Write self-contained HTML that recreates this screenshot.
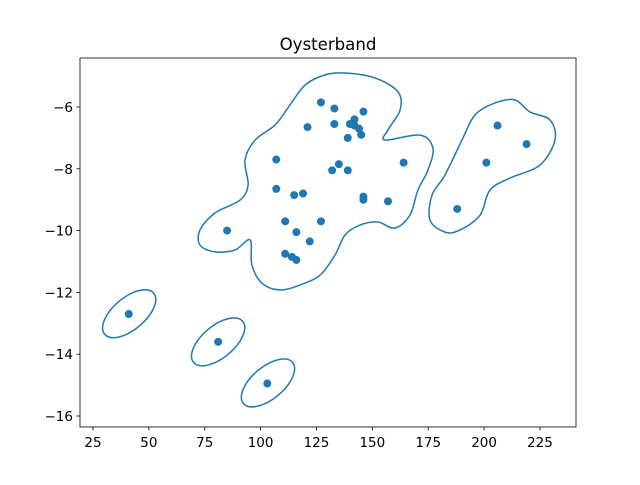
<!DOCTYPE html>
<html><head><meta charset="utf-8"><style>
body{margin:0;background:#fff;font-family:"Liberation Sans","DejaVu Sans",sans-serif}
svg text{font-family:"DejaVu Sans","Liberation Sans",sans-serif}
</style></head><body>
<svg id="chart" width="640" height="480" xmlns="http://www.w3.org/2000/svg">
<rect width="640" height="480" fill="#fff"/>
<text x="328" y="50" text-anchor="middle" font-size="16.6">Oysterband</text>
<g id="contours"></g>
<g id="points"></g>
<rect x="80" y="58" width="496" height="369" fill="none" stroke="#000" stroke-width="0.8"/>
<g id="xaxis"></g>
<g id="yaxis"></g>
</svg>
<script>
const xs=[41,81,103,85,107,107,111,111,114,115,116,116,119,121,122,127,127,132,133,133,135,139,139,140,142,142,144,145,146,146,146,157,164,188,201,206,219];
const ys=[-12.7,-13.6,-14.95,-10,-7.7,-8.65,-9.7,-10.75,-10.85,-8.85,-10.95,-10.05,-8.8,-6.65,-10.35,-5.85,-9.7,-8.05,-6.05,-6.55,-7.85,-8.05,-7.0,-6.55,-6.4,-6.6,-6.7,-6.9,-6.15,-8.9,-9.0,-9.05,-7.8,-9.3,-7.8,-6.6,-7.2];
const xTicks=[25,50,75,100,125,150,175,200,225];
const yTicks=[-16,-14,-12,-10,-8,-6];
const bigX=[137.8,151.2,161.5,162.4,157.0,155.7,171.3,177.1,174.9,170.4,166.8,160.1,152.5,144.5,137.8,133.3,126.6,117.6,108.7,100.6,96.1,95.3,88.5,79.6,72.9,72.9,79.6,90.8,94.4,93.0,97.5,106.5,113.1,119.9,128.8];
const bigY=[-4.90,-5.06,-5.51,-6.10,-6.74,-7.07,-6.91,-7.33,-8.04,-8.69,-9.50,-9.92,-9.72,-9.82,-10.14,-10.79,-11.44,-11.76,-11.92,-11.70,-11.11,-10.30,-10.63,-10.69,-10.47,-9.98,-9.43,-9.01,-8.52,-7.72,-7.07,-6.58,-5.94,-5.29,-4.96];
const rightX=[175.8,182.5,189.2,198.2,202.6,211.6,225.0,231.7,229.5,220.5,213.8,204.9,195.9,190.1,182.5,176.7];
const rightY=[-9.66,-10.05,-9.98,-9.50,-8.69,-8.30,-7.88,-7.07,-6.42,-6.16,-5.77,-5.87,-6.26,-7.07,-8.20,-8.85];
const ellX=[41.2,81,103.3];
const ellY=[-12.69,-13.6,-14.93];
const NS="http://www.w3.org/2000/svg";
const sx=v=>37.1+v*2.235;
const sy=v=>107-(v+6)*30.9;
function mk(t,a,p){const e=document.createElementNS(NS,t);for(const k in a)e.setAttribute(k,a[k]);p.appendChild(e);return e;}
const C="#1f77b4";
const cg=document.getElementById('contours');
function closedPath(X,Y){
 const P=X.map((x,i)=>[sx(x),sy(Y[i])]);const n=P.length;let d=`M${P[0][0]},${P[0][1]}`;
 for(let i=0;i<n;i++){const p0=P[(i-1+n)%n],p1=P[i],p2=P[(i+1)%n],p3=P[(i+2)%n];
  d+=` C${p1[0]+(p2[0]-p0[0])/6},${p1[1]+(p2[1]-p0[1])/6} ${p2[0]-(p3[0]-p1[0])/6},${p2[1]-(p3[1]-p1[1])/6} ${p2[0]},${p2[1]}`;}
 return d+'Z';}
let e=mk('path',{d:closedPath(bigX,bigY),fill:'none',stroke:C,'stroke-width':1.5},cg);


e=mk('path',{d:closedPath(rightX,rightY),fill:'none',stroke:C,'stroke-width':1.5},cg);


ellX.forEach((x,i)=>{const cx=sx(x),cy=sy(ellY[i]);
 const el=mk('ellipse',{cx:cx,cy:cy,rx:32,ry:16,transform:`rotate(-40 ${cx} ${cy})`,fill:'none',stroke:C,'stroke-width':1.5},cg);
 
 });
const pg=document.getElementById('points');
xs.forEach((x,i)=>{const c=mk('circle',{cx:sx(x),cy:sy(ys[i]),r:4,fill:C},pg);
 
 });
const xa=document.getElementById('xaxis');
xTicks.forEach(t=>{const x=sx(t);mk('line',{x1:x,x2:x,y1:427,y2:430.5,stroke:'#000','stroke-width':0.8},xa);
 const tx=mk('text',{x:x,y:447,'text-anchor':'middle','font-size':13.5},xa);tx.textContent=t;
 
 });
const ya=document.getElementById('yaxis');
yTicks.forEach(t=>{const y=sy(t);mk('line',{x1:76.5,x2:80,y1:y,y2:y,stroke:'#000','stroke-width':0.8},ya);
 const tx=mk('text',{x:73,y:y+5,'text-anchor':'end','font-size':13.5},ya);tx.textContent='\u2212'+Math.abs(t);
 
 });
</script>
</body></html>
